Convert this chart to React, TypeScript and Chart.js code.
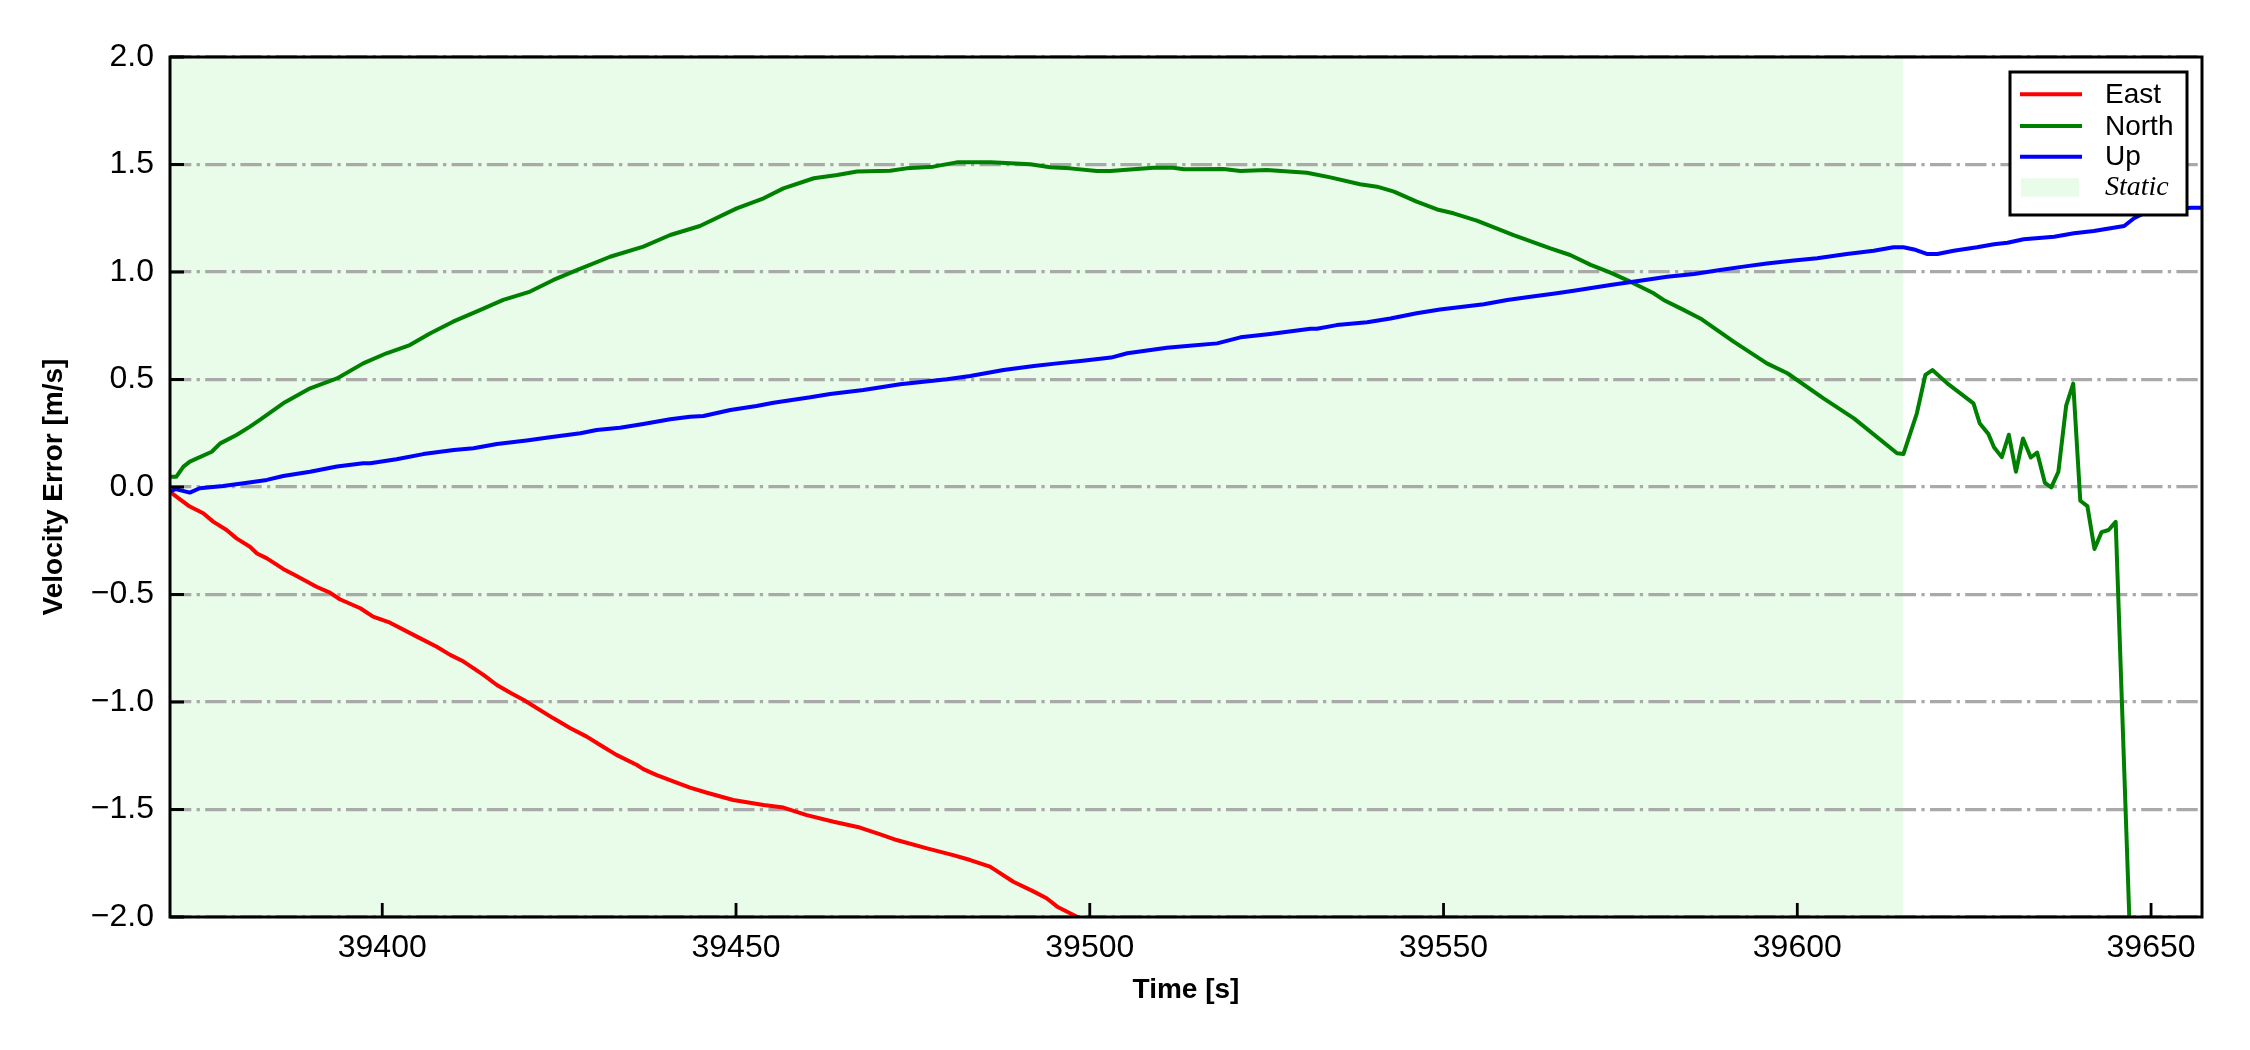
import React, { useEffect, useRef } from "react";
import { Chart, registerables } from "chart.js";

Chart.register(...registerables);

// ---------- data ----------
const xTickValues = [39400, 39450, 39500, 39550, 39600, 39650];
const yTickValues = [-2, -1.5, -1, -0.5, 0, 0.5, 1, 1.5, 2];
const xMin = 39370;
const xMax = 39657.2;
const staticStart = 39370;
const staticEnd = 39615;

const eastTime = [
  39370, 39370.9, 39372.8, 39374.7, 39376.1, 39378, 39379.4, 39381.3, 39382.3, 39383.7,
  39386, 39387.9, 39390.7, 39392.6, 39394, 39396.9, 39398.7, 39401.1, 39404.9, 39407.7,
  39409.6, 39411.5, 39414.3, 39416.2, 39418.1, 39420, 39424.2, 39426.6, 39428.9, 39430.8,
  39433.1, 39436, 39436.9, 39438.8, 39441.6, 39443.5, 39445.9, 39449.6, 39453.9, 39456.7,
  39460, 39463.8, 39467.5, 39470.4, 39472.7, 39477, 39480.7, 39483.1, 39485.9, 39489.2,
  39492.1, 39493.9, 39495.4, 39498.4, 39500.5,
];
const eastValues = [
  -0.022, -0.045, -0.091, -0.122, -0.161, -0.2, -0.239, -0.278, -0.309, -0.332,
  -0.381, -0.414, -0.464, -0.491, -0.522, -0.564, -0.603, -0.631, -0.696, -0.743,
  -0.781, -0.812, -0.874, -0.921, -0.957, -0.991, -1.076, -1.122, -1.161, -1.2,
  -1.246, -1.293, -1.312, -1.34, -1.375, -1.398, -1.422, -1.456, -1.479, -1.491,
  -1.526, -1.557, -1.584, -1.616, -1.642, -1.681, -1.712, -1.735, -1.766, -1.836,
  -1.882, -1.913, -1.952, -2.002, -2.05,
];

const northTime = [
  39370, 39370.9, 39371.9, 39372.8, 39375.9, 39377.1, 39379.4, 39381.3, 39382.7, 39386,
  39389.8, 39393.6, 39397.3, 39400.6, 39403.9, 39406.8, 39410, 39413.8, 39417.1, 39420.9,
  39424.2, 39427.5, 39432.2, 39436.9, 39440.7, 39444.9, 39450.1, 39453.9, 39456.7, 39461,
  39464.3, 39467.1, 39471.8, 39474.1, 39477.9, 39481.2, 39486, 39491.6, 39494.4, 39497.2,
  39501, 39502.9, 39509, 39511.8, 39513.3, 39518.9, 39521.3, 39525, 39530.7, 39534,
  39538.2, 39540.6, 39543, 39546.2, 39549.1, 39551.4, 39554.7, 39559.9, 39565.1, 39567.9,
  39570.8, 39573.6, 39576.4, 39579.7, 39581.1, 39583.5, 39586.5, 39591, 39595.7, 39598.6,
  39603.7, 39608, 39614.1, 39615, 39616.9, 39618.1, 39619.1, 39621.2, 39624.9, 39625.8,
  39627, 39627.8, 39628.9, 39629.9, 39630.9, 39631.9, 39633, 39633.9, 39635, 39635.9,
  39636.9, 39638, 39639, 39640, 39641, 39642, 39643, 39644, 39645, 39647.5,
];
const northValues = [
  0.048, 0.048, 0.095, 0.118, 0.164, 0.203, 0.242, 0.281, 0.312, 0.389,
  0.459, 0.505, 0.575, 0.622, 0.66, 0.715, 0.769, 0.823, 0.87, 0.909,
  0.963, 1.009, 1.071, 1.118, 1.172, 1.214, 1.296, 1.343, 1.389, 1.436,
  1.451, 1.467, 1.471, 1.482, 1.49, 1.51, 1.51, 1.501, 1.487, 1.482,
  1.47, 1.47, 1.485, 1.485, 1.478, 1.479, 1.47, 1.474, 1.462, 1.44,
  1.408, 1.397, 1.374, 1.327, 1.291, 1.273, 1.239, 1.172, 1.11, 1.079,
  1.033, 0.997, 0.955, 0.901, 0.87, 0.831, 0.78, 0.676, 0.575, 0.529,
  0.412, 0.319, 0.157, 0.153, 0.343, 0.521, 0.544, 0.482, 0.389, 0.295,
  0.247, 0.185, 0.139, 0.243, 0.071, 0.226, 0.137, 0.16, 0.019, -0.002,
  0.071, 0.378, 0.481, -0.064, -0.089, -0.288, -0.21, -0.2, -0.162, -2.55,
];

const upTime = [
  39370, 39370.8, 39372.8, 39374.2, 39377.5, 39380.4, 39383.7, 39386, 39389.8, 39393.6,
  39397.3, 39398.3, 39402, 39405.8, 39410.1, 39412.9, 39416.2, 39420.4, 39423.7, 39428,
  39430.3, 39433.6, 39436.9, 39440.7, 39443.5, 39445.4, 39449.2, 39452.9, 39455.3, 39460.5,
  39463.3, 39468, 39473.2, 39479.8, 39483.1, 39487.8, 39492.1, 39495.4, 39498.7, 39503,
  39505.3, 39510.9, 39513.7, 39518, 39521.3, 39525.5, 39531.2, 39532.1, 39534.9, 39539.2,
  39542.5, 39546.2, 39549.5, 39555.7, 39559, 39562.3, 39566, 39568.4, 39573.6, 39579.2,
  39581.6, 39585.4, 39589.1, 39592.4, 39595.7, 39599.5, 39602.8, 39607, 39610.8, 39613.6,
  39615, 39616.5, 39618.3, 39619.8, 39622.1, 39625.4, 39627.8, 39629.7, 39632, 39636.3,
  39639.1, 39641.9, 39646.2, 39647.6, 39649, 39655.6, 39657.2,
];
const upValues = [
  -0.02, -0.01, -0.026, -0.006, 0.005, 0.017, 0.033, 0.051, 0.071, 0.095,
  0.11, 0.11, 0.129, 0.153, 0.172, 0.18, 0.2, 0.216, 0.231, 0.25,
  0.265, 0.276, 0.293, 0.315, 0.327, 0.33, 0.358, 0.377, 0.392, 0.417,
  0.433, 0.451, 0.478, 0.501, 0.516, 0.544, 0.563, 0.575, 0.586, 0.602,
  0.622, 0.648, 0.656, 0.668, 0.696, 0.712, 0.736, 0.736, 0.753, 0.766,
  0.784, 0.808, 0.826, 0.85, 0.87, 0.885, 0.901, 0.913, 0.94, 0.966,
  0.978, 0.991, 1.009, 1.025, 1.04, 1.053, 1.064, 1.084, 1.099, 1.115,
  1.115, 1.105, 1.084, 1.084, 1.099, 1.115, 1.129, 1.136, 1.152, 1.164,
  1.18, 1.191, 1.214, 1.25, 1.273, 1.299, 1.299,
];

const seriesLabels = ["East", "North", "Up"];
const staticLabel = "Static";

// ---------- styling ----------
const SANS = "'Liberation Sans', Arial, Helvetica, sans-serif";
const SERIF = "'Liberation Serif', 'Times New Roman', serif";
const STATIC_FILL = "rgb(233, 252, 233)";
const GRID_COLOR = "#a9a9a9";

const toPoints = (xs: number[], ys: number[]) => xs.map((x, i) => ({ x, y: ys[i] }));
const fmtY = (v: number) => Number(v).toFixed(1).replace("-", "\u2212");

const frameTicksPlugin = {
  id: "frameTicks",
  afterDatasetsDraw(chart: any) {
    const { ctx, chartArea: a } = chart;
    const xs = chart.scales.x;
    const ys = chart.scales.y;
    ctx.save();
    ctx.strokeStyle = "#000";
    ctx.lineCap = "butt";
    ctx.lineWidth = 2.8;
    ctx.beginPath();
    for (const t of xs.ticks) {
      const px = xs.getPixelForValue(t.value);
      ctx.moveTo(px, a.bottom);
      ctx.lineTo(px, a.bottom - 14);
    }
    for (const t of ys.ticks) {
      const py = ys.getPixelForValue(t.value);
      ctx.moveTo(a.left, py);
      ctx.lineTo(a.left + 14, py);
    }
    ctx.stroke();
    ctx.lineWidth = 3;
    ctx.strokeRect(a.left, a.top, a.right - a.left, a.bottom - a.top);
    ctx.restore();
  },
};

const boxLegendPlugin = {
  id: "boxLegend",
  afterDraw(chart: any) {
    const { ctx, chartArea: a } = chart;
    const bx = a.right - 192;
    const by = a.top + 15;
    const bw = 177;
    const bh = 143;
    ctx.save();
    ctx.fillStyle = "#fff";
    ctx.fillRect(bx, by, bw, bh);
    ctx.lineWidth = 3;
    ctx.strokeStyle = "#000";
    ctx.strokeRect(bx, by, bw, bh);
    const rows = [22.3, 54, 84.7];
    const ds = chart.data.datasets;
    ctx.textBaseline = "middle";
    ctx.textAlign = "left";
    for (let i = 0; i < 3; i++) {
      const d = ds[i];
      const yy = by + rows[i];
      ctx.beginPath();
      ctx.strokeStyle = d.borderColor;
      ctx.lineWidth = 4;
      ctx.moveTo(bx + 10, yy);
      ctx.lineTo(bx + 72, yy);
      ctx.stroke();
      ctx.fillStyle = "#000";
      ctx.font = `28px ${SANS}`;
      ctx.fillText(d.label, bx + 95, yy + 1);
    }
    const sd = ds[3];
    ctx.fillStyle = sd.backgroundColor;
    ctx.fillRect(bx + 11, by + 106.3, 58, 18.4);
    ctx.fillStyle = "#000";
    ctx.font = `italic 28px ${SERIF}`;
    ctx.fillText(sd.label, bx + 95, by + 115.5);
    ctx.restore();
  },
};

export default function App() {
  const canvasRef = useRef<HTMLCanvasElement | null>(null);

  useEffect(() => {
    if (!canvasRef.current) return;
    const lineBase = {
      borderWidth: 4,
      pointRadius: 0,
      pointHoverRadius: 0,
      tension: 0,
      fill: false,
      borderJoinStyle: "round" as const,
      clip: 0,
    };
    const chart = new Chart(canvasRef.current, {
      type: "line",
      data: {
        datasets: [
          { ...lineBase, label: seriesLabels[0], data: toPoints(eastTime, eastValues), borderColor: "#ff0000", backgroundColor: "#ff0000", order: 3 },
          { ...lineBase, label: seriesLabels[1], data: toPoints(northTime, northValues), borderColor: "#008000", backgroundColor: "#008000", order: 2 },
          { ...lineBase, label: seriesLabels[2], data: toPoints(upTime, upValues), borderColor: "#0000ff", backgroundColor: "#0000ff", order: 1 },
          {
            label: staticLabel,
            data: [
              { x: staticStart, y: 2 },
              { x: staticEnd, y: 2 },
            ],
            borderColor: "rgba(0,0,0,0)",
            borderWidth: 0,
            backgroundColor: STATIC_FILL,
            pointRadius: 0,
            fill: { target: { value: -2 } },
            clip: 0,
            order: 10,
          } as any,
        ],
      },
      options: {
        animation: false,
        responsive: false,
        devicePixelRatio: 1,
        events: [],
        layout: { padding: { left: 0, top: 57, right: 48, bottom: 0 } },
        plugins: {
          legend: { display: false },
          tooltip: { enabled: false },
          filler: { drawTime: "beforeDraw" },
        } as any,
        scales: {
          x: {
            type: "linear",
            min: xMin,
            max: xMax,
            afterBuildTicks: (s: any) => {
              s.ticks = xTickValues.map((v) => ({ value: v }));
            },
            afterFit: (s: any) => {
              s.height = 133;
            },
            grid: { display: false, drawTicks: false },
            border: { display: false },
            ticks: {
              autoSkip: false,
              maxRotation: 0,
              padding: 12,
              color: "#000",
              font: { family: SANS, size: 32 },
              callback: (v: any) => String(v),
            },
            title: {
              display: true,
              text: "Time [s]",
              color: "#000",
              font: { family: SANS, size: 28, weight: "bold" },
              padding: { top: 0, bottom: 43 },
            },
          },
          y: {
            type: "linear",
            min: -2,
            max: 2,
            afterBuildTicks: (s: any) => {
              s.ticks = yTickValues.map((v) => ({ value: v }));
            },
            afterFit: (s: any) => {
              s.width = 170;
            },
            grid: { display: true, drawTicks: false, color: GRID_COLOR, lineWidth: 3.3 },
            border: { display: false, dash: [21.3, 5.3, 3.3, 5.3] },
            ticks: {
              autoSkip: false,
              padding: 16,
              color: "#000",
              font: { family: SANS, size: 32 },
              callback: (v: any) => fmtY(v),
            },
            title: {
              display: true,
              text: "Velocity Error [m/s]",
              color: "#000",
              font: { family: SANS, size: 28, weight: "bold" },
              padding: { top: 37, bottom: 0 },
            },
          },
        },
      },
      plugins: [frameTicksPlugin, boxLegendPlugin],
    } as any);
    return () => chart.destroy();
  }, []);

  return (
    <div style={{ position: "absolute", left: 0, top: 0, width: 2250, height: 1050, background: "#fff" }}>
      <canvas ref={canvasRef} width={2250} height={1050} style={{ display: "block" }} />
    </div>
  );
}
